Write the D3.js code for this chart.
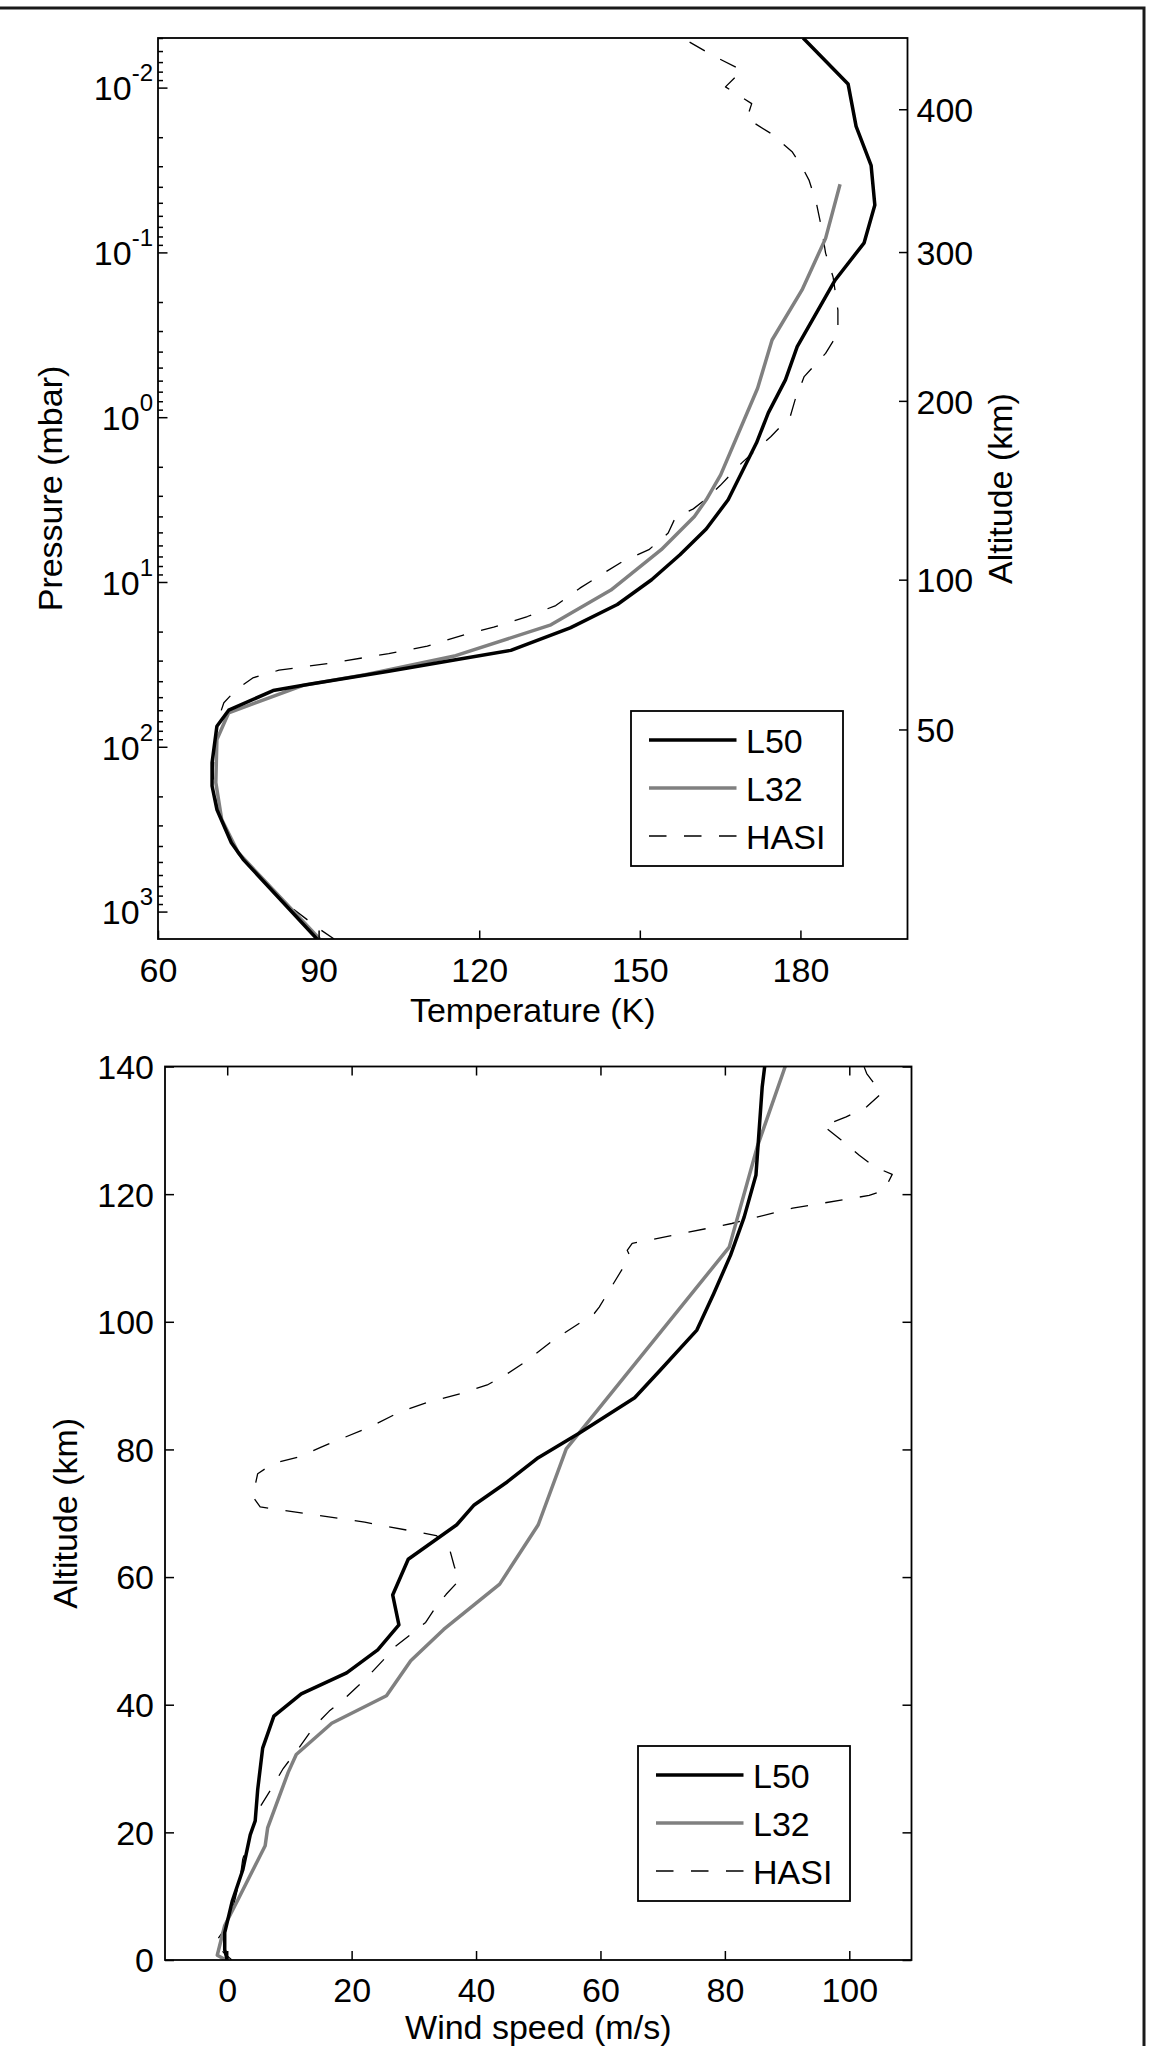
<!DOCTYPE html>
<html>
<head>
<meta charset="utf-8">
<script src="https://cdn.jsdelivr.net/npm/d3@7"></script>
<style>
  body { margin: 0; background: #fff; }
  svg { display: block; }
</style>
</head>
<body>
<svg id="chart" width="1163" height="2046"></svg>
<script>
// ---- data ----
const seriesNames = ["L50", "L32", "HASI"];

// temperature profiles: [temperature (K), pressure (mbar)]
const tempL50 = [
  [180.5, 0.005], [188.9, 0.0095], [190.4, 0.0172], [193.2, 0.0296], [193.9, 0.0516],
  [191.9, 0.0875], [186.5, 0.147], [179.4, 0.373], [177.2, 0.594], [174.0, 0.942],
  [171.8, 1.43], [166.5, 3.17], [162.4, 4.77], [157.5, 6.84], [152.2, 9.69],
  [145.8, 13.7], [137.0, 19.0], [125.9, 26.0], [115.6, 29.6], [103.1, 34.8],
  [87.95, 41.9], [81.5, 45.6], [73.2, 60.0], [71.0, 75.0], [70.1, 125],
  [70.1, 173], [71.0, 240], [73.7, 382], [75.9, 482], [89.7, 1467]
];
const tempL32 = [
  [187.4, 0.0386], [184.7, 0.0822], [180.3, 0.169], [174.7, 0.340], [172.0, 0.667],
  [165.1, 2.24], [162.4, 3.17], [160.2, 4.0], [154.0, 6.37], [144.6, 11.2],
  [133.4, 18.2], [115.6, 28.0], [98.7, 36.5], [87.1, 42.4], [73.2, 62.2],
  [71.0, 90.4], [70.8, 165], [71.9, 276], [75.0, 440], [90.2, 1467]
];
const tempHASI = [
  [159.3, 0.0053], [164.2, 0.00653], [169.1, 0.00785], [166.0, 0.0099], [170.9, 0.0125],
  [170.0, 0.0154], [174.5, 0.019], [178.5, 0.0246], [180.3, 0.0303], [181.6, 0.0364],
  [183.0, 0.0505], [183.9, 0.070], [184.7, 0.101], [186.1, 0.141], [187.0, 0.224],
  [187.0, 0.31], [184.7, 0.41], [180.7, 0.567], [179.0, 0.785], [178.1, 0.99],
  [174.5, 1.31], [171.5, 1.6], [169.0, 1.9], [165.0, 2.6], [162.0, 3.2],
  [160.0, 3.6], [156.6, 4.09], [155.3, 5.05], [151.7, 6.37], [146.8, 7.5],
  [143.3, 8.81], [138.8, 10.9], [134.3, 13.9], [129.0, 16.2], [122.7, 18.8],
  [117.4, 20.8], [110.3, 24.5], [103.1, 27.2], [92.4, 31.0], [82.6, 34.3],
  [77.7, 38.2], [74.6, 45], [72.3, 54.1], [71.0, 72], [70.6, 100],
  [70.3, 140], [70.5, 190], [71.5, 260], [73.3, 360], [76.5, 500],
  [80.5, 700], [85.0, 950], [90.2, 1280], [92.9, 1467]
];

const tempDomain = [60, 200];
const pressureDomain = [0.005, 1467];
const tempTicks = [60, 90, 120, 150, 180];
const pressureMajorTicks = [1e-2, 1e-1, 1e0, 1e1, 1e2, 1e3];
const altTickLabels = [50, 100, 200, 300, 400];
const altTickPressures = [78.5, 9.68, 0.796, 0.0995, 0.01353];

// wind profiles: [wind speed (m/s), altitude (km)]
const windL50 = [
  [86.4, 140], [86.0, 136.8], [85.0, 123.0], [83.1, 116.4], [80.9, 110.4],
  [78.2, 104.4], [75.5, 98.7], [69.6, 92.4], [65.5, 88.1], [56.5, 82.5],
  [50.0, 78.7], [45.0, 74.9], [39.7, 71.3], [36.9, 68.2], [29.1, 62.8],
  [26.6, 57.2], [27.6, 52.5], [24.2, 48.6], [19.2, 45.0], [11.9, 41.7],
  [7.5, 38.2], [5.7, 33.2], [4.9, 26.7], [4.5, 21.8], [3.7, 19.6],
  [2.5, 14.1], [0.8, 9.2], [-0.4, 4.3], [-0.4, 1.6], [0, 0]
];
const windL32 = [
  [89.7, 140], [85.2, 127.4], [80.7, 111.7], [54.5, 80.1], [50.0, 68.2],
  [43.8, 58.9], [34.8, 51.8], [29.5, 46.9], [25.6, 41.4], [16.8, 37.1],
  [11.1, 32.2], [9.8, 29.4], [6.5, 20.7], [6.1, 17.9], [1.6, 9.2],
  [-0.4, 5.4], [-1.6, 0.75], [-0.2, 0]
];
const windHASI = [
  [102.4, 139.9], [102.8, 138.9], [105.2, 135.8], [102.8, 133.7], [99.5, 132.1],
  [95.8, 130.7], [98.7, 128.5], [101.6, 126.1], [104.0, 124.3], [106.9, 123.1],
  [105.6, 120.6], [103.2, 119.8], [90.9, 117.8], [81.1, 115.4], [66.3, 112.5],
  [65.1, 112.3], [64.3, 111.2], [64.7, 110.4], [63.9, 108.9], [59.8, 102.3],
  [59.0, 101.3], [52.4, 97.1], [47.9, 93.7], [44.6, 91.6], [41.8, 90.1],
  [37.7, 88.8], [32.3, 87.4], [27.8, 85.9], [22.9, 83.5], [18.4, 81.7],
  [15.2, 80.4], [11.5, 78.8], [7.4, 77.8], [4.9, 76.2], [4.1, 72.6],
  [5.3, 71.0], [12.3, 70.0], [22.1, 68.6], [33.6, 66.5], [35.6, 64.9],
  [36.5, 61.7], [37.3, 59.5], [35.2, 57.3], [33.6, 55.4], [31.9, 52.9],
  [29.9, 51.3], [27.0, 49.1], [25.0, 46.9], [22.1, 43.9], [18.8, 40.9],
  [16.4, 39.0], [13.9, 36.5], [11.5, 33.2], [9.0, 30.0], [7.0, 26.7],
  [5.3, 24.0], [3.7, 19.6], [2.5, 15.8], [2.1, 13.0], [0.8, 7.6],
  [-0.8, 4.3], [-2.0, 2.6], [-0.4, 1.0], [0.7, 0.05]
];

const windDomain = [-10, 110];
const altDomain = [0, 140];
const windTicks = [0, 20, 40, 60, 80, 100];
const altTicks = [0, 20, 40, 60, 80, 100, 120, 140];

// ---- layout / style ----
const FONT = "'Liberation Sans', Arial, Helvetica, sans-serif";
const FS = 34;
const AXIS_W = 1.8;

const lineStyle = {
  L50: { stroke: "#000", width: 3.5, dash: null },
  L32: { stroke: "#808080", width: 3.5, dash: null },
  HASI: { stroke: "#000", width: 1.3, dash: "17.5,17.5" }
};

const topBox = { left: 158, right: 907.5, top: 38, bottom: 939 };
const botBox = { left: 165, right: 911.5, top: 1066.5, bottom: 1960 };

const svg = d3.select("#chart")
  .attr("font-family", FONT);

// outer frame (left/bottom edges fall outside the picture)
svg.append("rect")
  .attr("x", -6).attr("y", 8)
  .attr("width", 1150).attr("height", 2100)
  .attr("fill", "none")
  .attr("stroke", "#1a1a1a")
  .attr("stroke-width", 3);

function styleAxis(g) {
  g.attr("font-size", FS).attr("font-family", FONT);
  g.select(".domain").remove();
  g.selectAll(".tick line").attr("stroke", "#000").attr("stroke-width", 1.5);
  g.selectAll(".tick text").attr("fill", "#000");
}

function drawLines(g, clipId, box, x, y, data) {
  g.append("clipPath").attr("id", clipId)
    .append("rect")
    .attr("x", box.left).attr("y", box.top)
    .attr("width", box.right - box.left).attr("height", box.bottom - box.top);

  const line = d3.line().x(d => x(d[0])).y(d => y(d[1]));
  // HASI first so the model lines sit on top of it
  const order = ["HASI", "L32", "L50"];
  g.append("g").attr("clip-path", `url(#${clipId})`)
    .selectAll("path")
    .data(order)
    .join("path")
    .attr("d", name => line(data[name]))
    .attr("fill", "none")
    .attr("stroke", name => lineStyle[name].stroke)
    .attr("stroke-width", name => lineStyle[name].width)
    .attr("stroke-dasharray", name => lineStyle[name].dash)
    .attr("stroke-linejoin", "round");
}

function drawFrame(g, box) {
  g.append("rect")
    .attr("x", box.left).attr("y", box.top)
    .attr("width", box.right - box.left).attr("height", box.bottom - box.top)
    .attr("fill", "none")
    .attr("stroke", "#000")
    .attr("stroke-width", AXIS_W);
}

function drawLegend(g, x0, y0) {
  const w = 212, h = 155, rowY = [29, 77, 125];
  const leg = g.append("g").attr("transform", `translate(${x0},${y0})`);
  leg.append("rect")
    .attr("width", w).attr("height", h)
    .attr("fill", "#fff")
    .attr("stroke", "#000")
    .attr("stroke-width", AXIS_W);
  const rows = leg.selectAll(".row")
    .data(seriesNames)
    .join("g")
    .attr("class", "row")
    .attr("transform", (d, i) => `translate(0,${rowY[i]})`);
  rows.append("line")
    .attr("x1", 18).attr("x2", 105.5)
    .attr("stroke", d => lineStyle[d].stroke)
    .attr("stroke-width", d => lineStyle[d].width)
    .attr("stroke-dasharray", d => lineStyle[d].dash);
  rows.append("text")
    .attr("x", 115).attr("y", 12.5)
    .attr("font-size", FS)
    .attr("fill", "#000")
    .text(d => d);
}

// ================= top panel: temperature vs pressure =================
const topPanel = svg.append("g");
const xT = d3.scaleLinear().domain(tempDomain).range([topBox.left, topBox.right]);
const yP = d3.scaleLog().domain(pressureDomain).range([topBox.top, topBox.bottom]);

drawLines(topPanel, "clipTop", topBox, xT, yP, { L50: tempL50, L32: tempL32, HASI: tempHASI });

// bottom temperature axis (ticks pointing in)
topPanel.append("g")
  .attr("transform", `translate(0,${topBox.bottom})`)
  .call(d3.axisBottom(xT).tickValues(tempTicks).tickSizeInner(-8.5).tickSizeOuter(0).tickPadding(19))
  .call(styleAxis);

// minor pressure ticks
const minorP = yP.ticks().filter(p => !pressureMajorTicks.includes(p));
topPanel.append("g")
  .attr("transform", `translate(${topBox.left},0)`)
  .call(d3.axisLeft(yP).tickValues(minorP).tickSizeInner(-5).tickSizeOuter(0).tickFormat(""))
  .call(styleAxis);

// major pressure ticks with 10^n labels
topPanel.append("g")
  .attr("transform", `translate(${topBox.left},0)`)
  .call(d3.axisLeft(yP).tickValues(pressureMajorTicks).tickSizeInner(-9.5).tickSizeOuter(0).tickPadding(5))
  .call(styleAxis)
  .call(g => g.selectAll(".tick text")
    .attr("dy", "0.36em")
    .text(null)
    .each(function(d) {
      const t = d3.select(this);
      t.append("tspan").text("10");
      t.append("tspan")
        .attr("dy", -19)
        .attr("font-size", 24)
        .text(String(Math.round(Math.log10(d))));
    }));

// right altitude axis
topPanel.append("g")
  .attr("transform", `translate(${topBox.right},0)`)
  .call(d3.axisRight(yP).tickValues(altTickPressures).tickSizeInner(-8.5).tickSizeOuter(0)
    .tickPadding(9).tickFormat((d, i) => altTickLabels[i]))
  .call(styleAxis)
  .call(g => g.selectAll(".tick text").attr("dy", "0.36em"));

drawFrame(topPanel, topBox);
drawLegend(topPanel, 631, 711);

topPanel.append("text")
  .attr("x", (topBox.left + topBox.right) / 2).attr("y", 1022)
  .attr("text-anchor", "middle").attr("font-size", FS)
  .text("Temperature (K)");
topPanel.append("text")
  .attr("transform", `translate(62,${(topBox.top + topBox.bottom) / 2}) rotate(-90)`)
  .attr("text-anchor", "middle").attr("font-size", FS)
  .text("Pressure (mbar)");
topPanel.append("text")
  .attr("transform", `translate(1012,${(topBox.top + topBox.bottom) / 2}) rotate(-90)`)
  .attr("text-anchor", "middle").attr("font-size", FS)
  .text("Altitude (km)");

// ================= bottom panel: wind speed vs altitude =================
const botPanel = svg.append("g");
const xU = d3.scaleLinear().domain(windDomain).range([botBox.left, botBox.right]);
const yZ = d3.scaleLinear().domain(altDomain).range([botBox.bottom, botBox.top]);

drawLines(botPanel, "clipBot", botBox, xU, yZ, { L50: windL50, L32: windL32, HASI: windHASI });

botPanel.append("g")
  .attr("transform", `translate(0,${botBox.bottom})`)
  .call(d3.axisBottom(xU).tickValues(windTicks).tickSizeInner(-9).tickSizeOuter(0).tickPadding(18))
  .call(styleAxis);
botPanel.append("g")
  .attr("transform", `translate(0,${botBox.top})`)
  .call(d3.axisTop(xU).tickValues(windTicks).tickSizeInner(-9).tickSizeOuter(0).tickFormat(""))
  .call(styleAxis);
botPanel.append("g")
  .attr("transform", `translate(${botBox.left},0)`)
  .call(d3.axisLeft(yZ).tickValues(altTicks).tickSizeInner(-9).tickSizeOuter(0).tickPadding(11))
  .call(styleAxis)
  .call(g => g.selectAll(".tick text").attr("dy", "0.35em"));
botPanel.append("g")
  .attr("transform", `translate(${botBox.right},0)`)
  .call(d3.axisRight(yZ).tickValues(altTicks).tickSizeInner(-9).tickSizeOuter(0).tickFormat(""))
  .call(styleAxis);

drawFrame(botPanel, botBox);
drawLegend(botPanel, 638, 1746);

botPanel.append("text")
  .attr("x", (botBox.left + botBox.right) / 2).attr("y", 2039)
  .attr("text-anchor", "middle").attr("font-size", FS)
  .text("Wind speed (m/s)");
botPanel.append("text")
  .attr("transform", `translate(77,${(botBox.top + botBox.bottom) / 2}) rotate(-90)`)
  .attr("text-anchor", "middle").attr("font-size", FS)
  .text("Altitude (km)");
</script>
</body>
</html>
